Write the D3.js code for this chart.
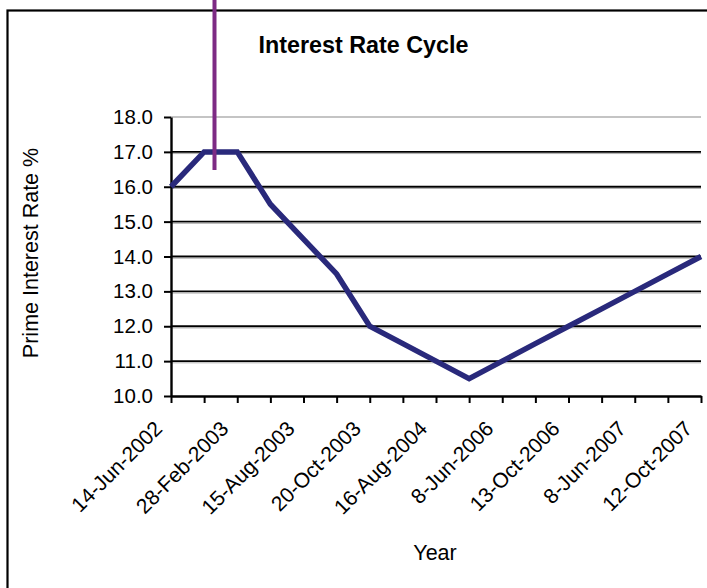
<!DOCTYPE html>
<html>
<head>
<meta charset="utf-8">
<script src="https://cdn.jsdelivr.net/npm/d3@7"></script>
<style>
	html, body { margin: 0; padding: 0; background: #fff; }
	svg { display: block; }
	text { font-family: "Liberation Sans", Arial, sans-serif; fill: #000; }
</style>
</head>
<body>
<div id="chart"></div>
<script>
	// 17 observations, only every other one carries a date label
	var dateLabels = ['14-Jun-2002', '28-Feb-2003', '15-Aug-2003', '20-Oct-2003', '16-Aug-2004',
		'8-Jun-2006', '13-Oct-2006', '8-Jun-2007', '12-Oct-2007'];
	var rates = [16.0, 17.0, 17.0, 15.5, 14.5, 13.5, 12.0, 11.5, 11.0, 10.5, 11.0, 11.5, 12.0, 12.5, 13.0, 13.5, 14.0];
	var yTicks = [10, 11, 12, 13, 14, 15, 16, 17, 18];

	(function() {
		var width = 707,
			height = 588,
			plotLeft = 171,
			plotRight = 701,
			plotTop = 117,
			plotBottom = 396;

		var svg = d3.select('#chart')
			.append('svg')
			.attr('width', width)
			.attr('height', height)

		// outer frame (runs off the right and bottom edges)
		svg.append('rect')
			.attr('x', 7.5)
			.attr('y', 10.5)
			.attr('width', 730)
			.attr('height', 620)
			.attr('fill', 'none')
			.attr('stroke', '#000')
			.attr('stroke-width', 2.2)

		var x = d3.scaleLinear()
			.domain([0, rates.length - 1])
			.range([plotLeft, plotRight])

		var y = d3.scaleLinear()
			.domain([10, 18])
			.range([plotBottom, plotTop])

		// gridlines
		var grid = svg.append('g').attr('class', 'grid')
		grid.selectAll('line.major')
			.data(yTicks.filter(function(d) { return d > 10; }))
			.enter()
			.append('line')
			.attr('x1', plotLeft)
			.attr('x2', plotRight)
			.attr('y1', function(d) { return y(d); })
			.attr('y2', function(d) { return y(d); })
			.attr('stroke', function(d) { return d === 18 ? '#c4c4c4' : '#000'; })
			.attr('stroke-width', function(d) { return d === 18 ? 2 : 1.8; })
		grid.selectAll('line.shadow')
			.data(yTicks.filter(function(d) { return d > 10 && d < 18; }))
			.enter()
			.append('line')
			.attr('x1', plotLeft)
			.attr('x2', plotRight)
			.attr('y1', function(d) { return y(d) + 1.7; })
			.attr('y2', function(d) { return y(d) + 1.7; })
			.attr('stroke', '#9a9a9a')
			.attr('stroke-width', 0.8)

		// y axis
		var yAxis = svg.append('g')
			.attr('transform', 'translate(' + plotLeft + ',0)')
			.call(d3.axisLeft(y)
				.tickValues(yTicks)
				.tickFormat(d3.format('.1f'))
				.tickSize(7)
				.tickSizeOuter(0)
				.tickPadding(11))
		yAxis.select('.domain').attr('stroke-width', 2.4)
		yAxis.selectAll('.tick line').attr('stroke-width', 2)
		yAxis.selectAll('text')
			.style('font-size', '20.5px')
			.attr('fill', '#000')

		// x axis
		var xAxis = svg.append('g')
			.attr('transform', 'translate(0,' + plotBottom + ')')
			.call(d3.axisBottom(x)
				.tickValues(d3.range(rates.length))
				.tickFormat(function(d) { return d % 2 === 0 ? dateLabels[d / 2] : ''; })
				.tickSize(7)
				.tickSizeOuter(0))
		xAxis.select('.domain').attr('stroke-width', 2.4)
		xAxis.selectAll('.tick line').attr('stroke-width', 2)
		xAxis.selectAll('text')
			.style('font-size', '21px')
			.attr('fill', '#000')
			.attr('text-anchor', 'end')
			.attr('y', 0)
			.attr('dy', 0)
			.attr('transform', 'translate(-8,34) rotate(-45)')

		// the rate line
		var line = d3.line()
			.x(function(d, i) { return x(i); })
			.y(function(d) { return y(d); })

		svg.append('path')
			.datum(rates)
			.attr('d', line)
			.attr('fill', 'none')
			.attr('stroke', '#29297b')
			.attr('stroke-width', 5.5)

		// purple marker line
		svg.append('line')
			.attr('x1', 214.5)
			.attr('x2', 214.5)
			.attr('y1', 0)
			.attr('y2', 170)
			.attr('stroke', '#7d2a84')
			.attr('stroke-width', 4)

		// titles
		svg.append('text')
			.attr('x', 363.5)
			.attr('y', 53)
			.attr('text-anchor', 'middle')
			.style('font-size', '23.3px')
			.style('font-weight', 'bold')
			.text('Interest Rate Cycle')

		svg.append('text')
			.attr('transform', 'translate(38,253) rotate(-90)')
			.attr('text-anchor', 'middle')
			.style('font-size', '21.5px')
			.text('Prime Interest Rate %')

		svg.append('text')
			.attr('x', 435)
			.attr('y', 560)
			.attr('text-anchor', 'middle')
			.style('font-size', '21.5px')
			.text('Year')
	})();
</script>
</body>
</html>
